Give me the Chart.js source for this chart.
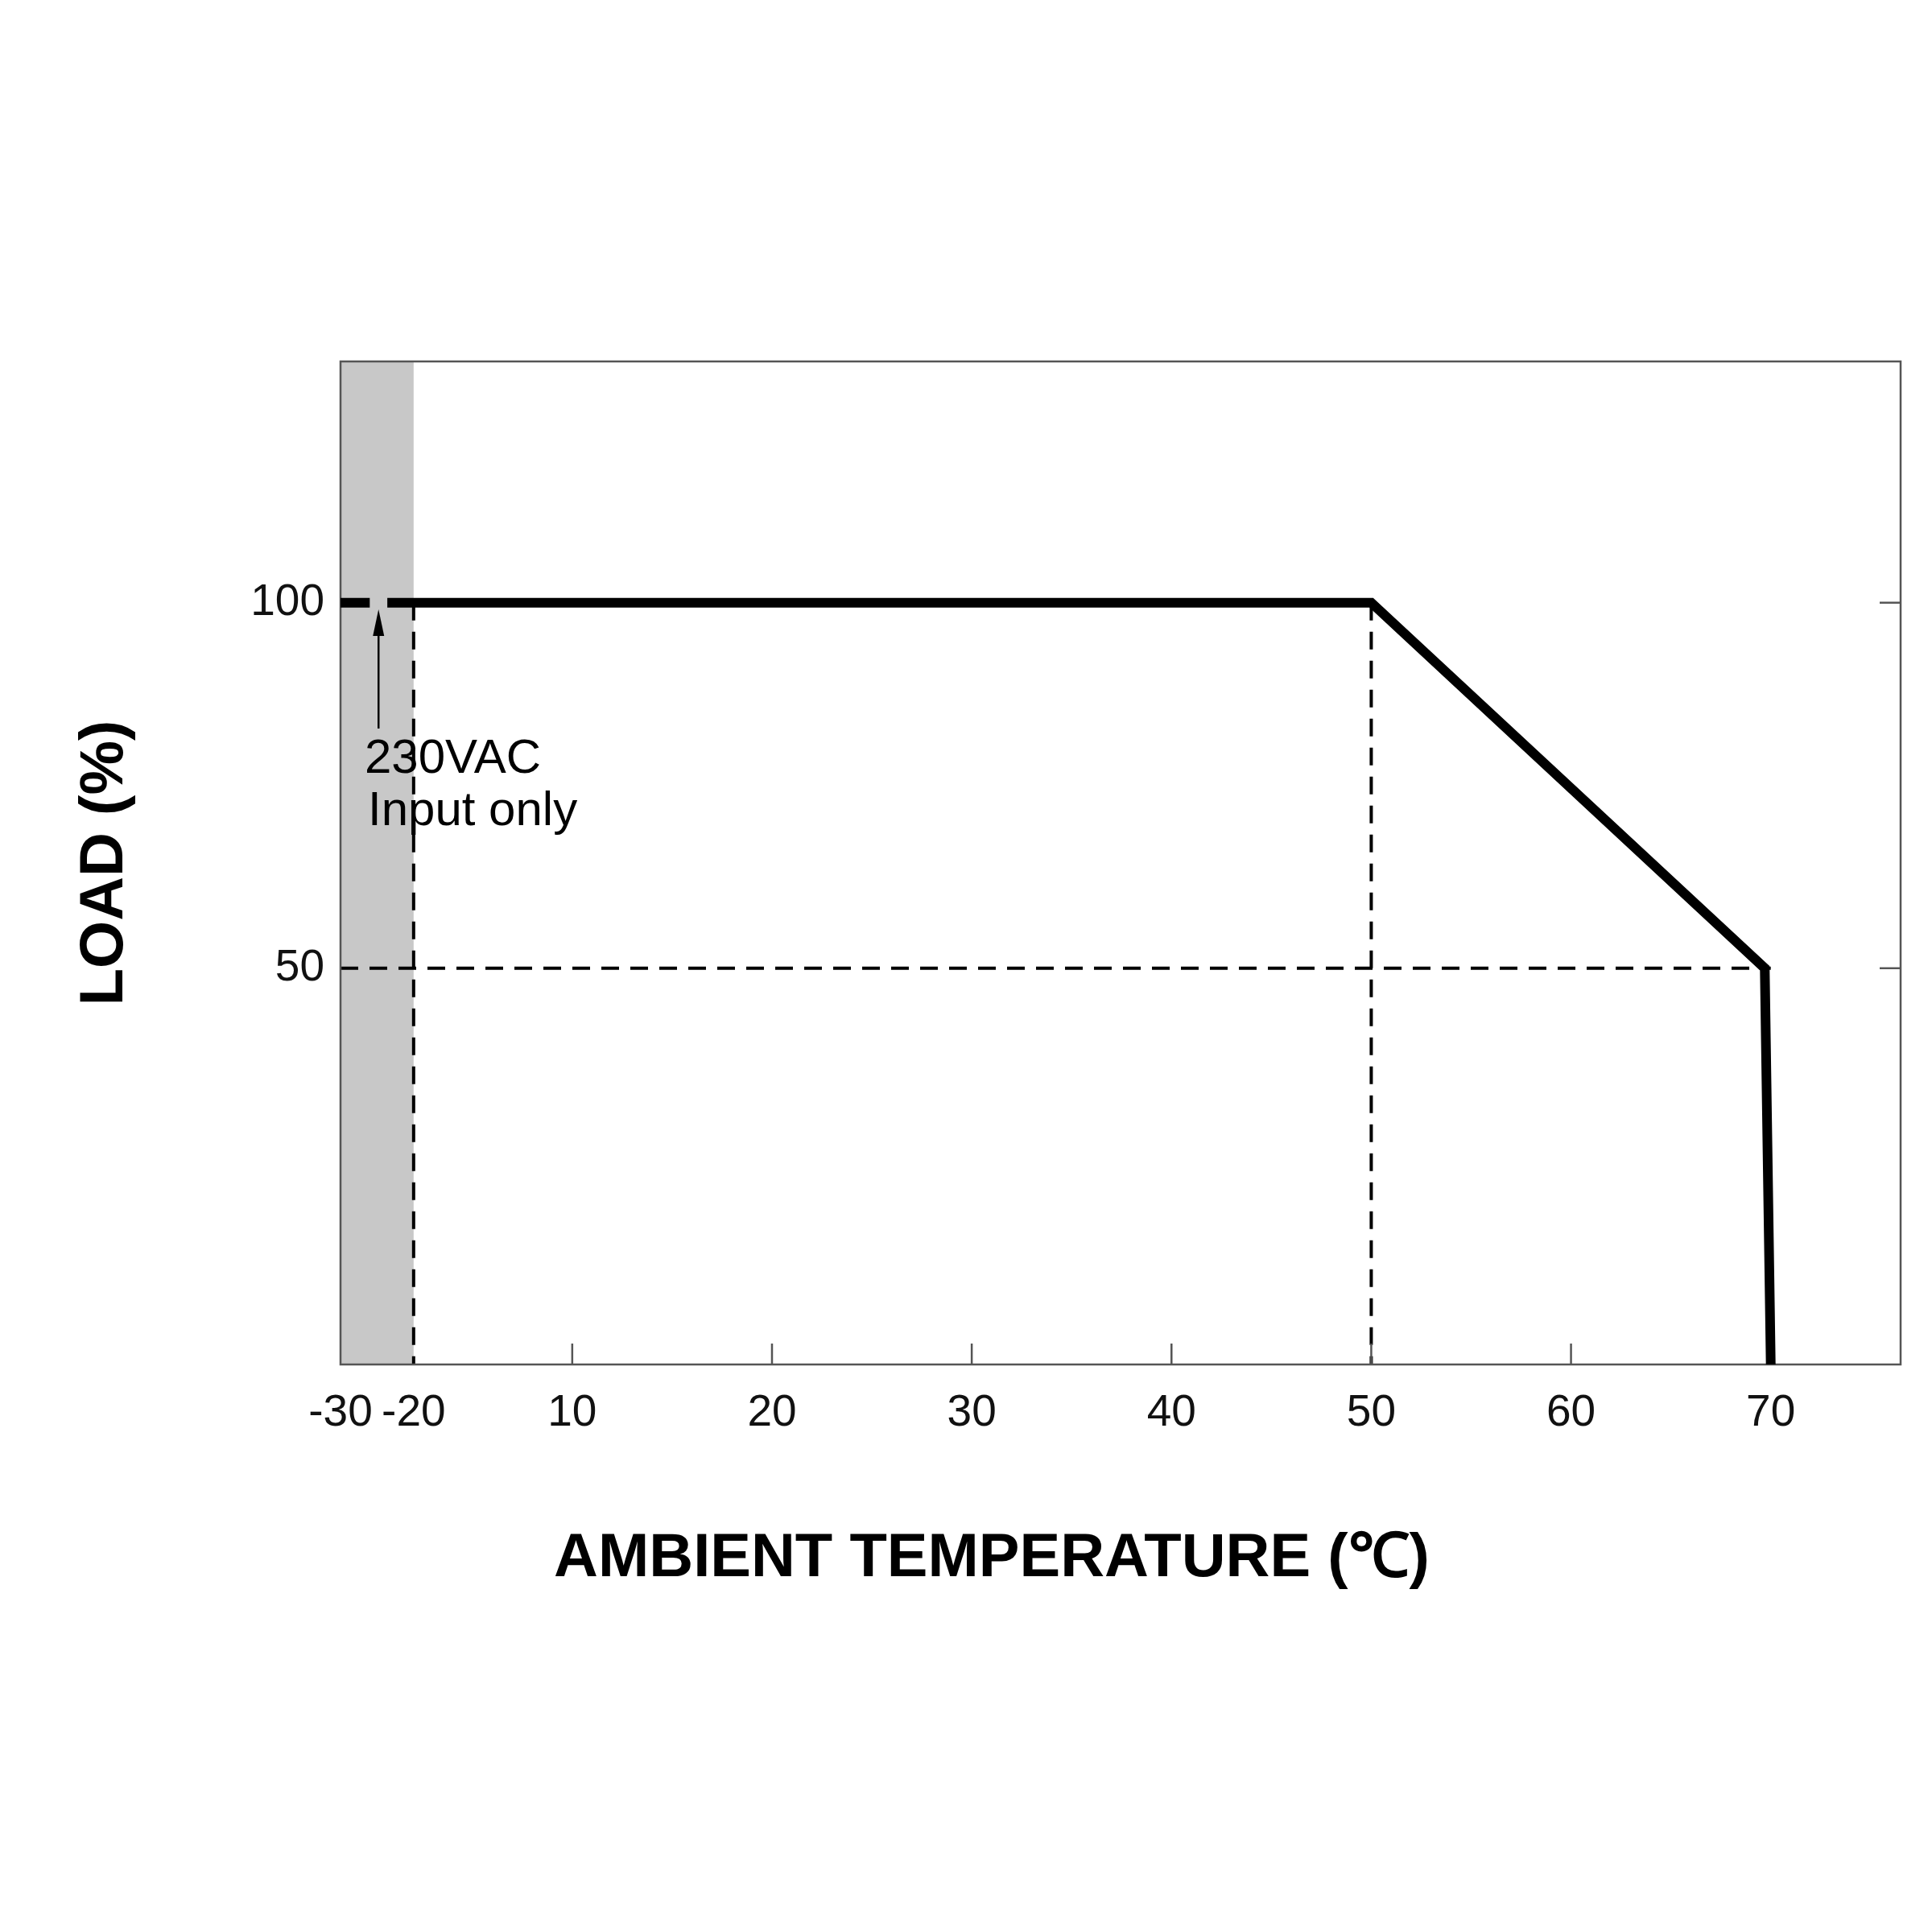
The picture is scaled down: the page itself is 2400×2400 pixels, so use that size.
<!DOCTYPE html>
<html><head><meta charset="utf-8">
<script src="https://cdn.jsdelivr.net/npm/chart.js@4"></script>
<style>html,body{margin:0;background:#fff}#w{width:2400px;height:2400px}</style>
</head><body><div id="w"><canvas id="c"></canvas></div>
<script>
const tickTemps=[-30,-20,10,20,30,40,50,60,70];
const yTicks=[50,100];
const curveA_T=[-30,-26];const curveA_L=[100,100];
const curveB_T=[-23.6,50,69.7,70];const curveB_L=[100,100,50,-4.2];
const shadeRange=[-30,-20];
const dashV=[-20,50];const dashH=50;
const xTitle='AMBIENT TEMPERATURE (℃)';const yTitle='LOAD (%)';
const note=['230VAC','Input only'];
// non-uniform axis of the original drawing
function toU(T){if(T>=10)return T;if(T>=-20)return 2.06+(T+20)*(7.94/30);return -1.6+(T+30)*0.366;}
const FONT='"Liberation Sans Narrow","Liberation Sans",Arial,sans-serif';
const mk=(T,L)=>T.map((t,i)=>({x:toU(t),y:L[i]}));
const deco={id:'deco',
beforeDatasetsDraw(ch){const {ctx,scales:{x,y},chartArea:a}=ch;ctx.save();
 ctx.fillStyle='#c8c8c8';ctx.fillRect(x.getPixelForValue(toU(shadeRange[0])),a.top,x.getPixelForValue(toU(shadeRange[1]))-x.getPixelForValue(toU(shadeRange[0])),a.bottom-a.top);
 ctx.strokeStyle='#000';ctx.lineWidth=4;ctx.setLineDash([22,14]);
 dashV.forEach(t=>{const px=x.getPixelForValue(toU(t));ctx.beginPath();ctx.moveTo(px,y.getPixelForValue(100));ctx.lineTo(px,a.bottom);ctx.stroke();});
 ctx.beginPath();ctx.moveTo(a.left,y.getPixelForValue(dashH));ctx.lineTo(x.getPixelForValue(70),y.getPixelForValue(dashH));ctx.stroke();
 ctx.setLineDash([]);ctx.strokeStyle='#555';ctx.lineWidth=2.5;ctx.strokeRect(a.left,a.top,a.right-a.left,a.bottom-a.top);
 ctx.lineWidth=2.5;yTicks.forEach(v=>{const py=y.getPixelForValue(v);ctx.beginPath();ctx.moveTo(a.right-26,py);ctx.lineTo(a.right,py);ctx.stroke();});
 tickTemps.filter(t=>t>=10&&t<70).forEach(t=>{const px=x.getPixelForValue(toU(t));ctx.beginPath();ctx.moveTo(px,a.bottom-26);ctx.lineTo(px,a.bottom);ctx.stroke();});
 ctx.restore();},
afterDatasetsDraw(ch){const {ctx,scales:{x,y},chartArea:a}=ch;ctx.save();
 const ax=x.getPixelForValue(toU(-24.8));ctx.strokeStyle='#000';ctx.fillStyle='#000';ctx.lineWidth=2.5;
 ctx.beginPath();ctx.moveTo(ax,905);ctx.lineTo(ax,765);ctx.stroke();
 ctx.beginPath();ctx.moveTo(ax,757);ctx.lineTo(ax-7,790);ctx.lineTo(ax+7,790);ctx.closePath();ctx.fill();
 ctx.font='60px '+FONT;ctx.textBaseline='alphabetic';ctx.textAlign='left';
 ctx.fillText(note[0],453,960);ctx.fillText(note[1],457,1025);
 ctx.font='bold 76px '+FONT;ctx.textAlign='center';ctx.textBaseline='middle';
 ctx.fillText(xTitle,(a.left+a.right)/2-160,1937);
 ctx.translate(131,(a.top+a.bottom)/2);ctx.rotate(-Math.PI/2);ctx.fillText(yTitle,0,0);
 ctx.restore();}};
new Chart(document.getElementById('c'),{type:'scatter',
data:{datasets:[{data:mk(curveA_T,curveA_L)},{data:mk(curveB_T,curveB_L)}].map(d=>Object.assign(d,{showLine:true,borderColor:'#000',borderWidth:12,pointRadius:0,borderJoinStyle:'miter',borderCapStyle:'butt'}))},
options:{responsive:true,maintainAspectRatio:false,animation:false,events:[],
layout:{padding:{top:449,right:39,left:0,bottom:0}},
plugins:{legend:{display:false},tooltip:{enabled:false}},
scales:{
x:{type:'linear',min:toU(-30),max:76.5,grid:{display:false,drawTicks:false},border:{display:false},
 afterBuildTicks(ax){ax.ticks=tickTemps.map(t=>({value:toU(t)}));},
 ticks:{autoSkip:false,maxRotation:0,padding:28,color:'#111',font:{size:55,family:FONT},callback:(v,i)=>String(tickTemps[i])},
 afterFit(ax){ax.height=705;}},
y:{type:'linear',min:-4.2,max:133,grid:{display:false,drawTicks:false},border:{display:false},
 afterBuildTicks(ax){ax.ticks=yTicks.map(v=>({value:v}));},
 ticks:{padding:20,color:'#111',font:{size:55,family:FONT}},
 afterFit(ax){ax.width=423;}}}},
plugins:[deco]});
</script></body></html>
